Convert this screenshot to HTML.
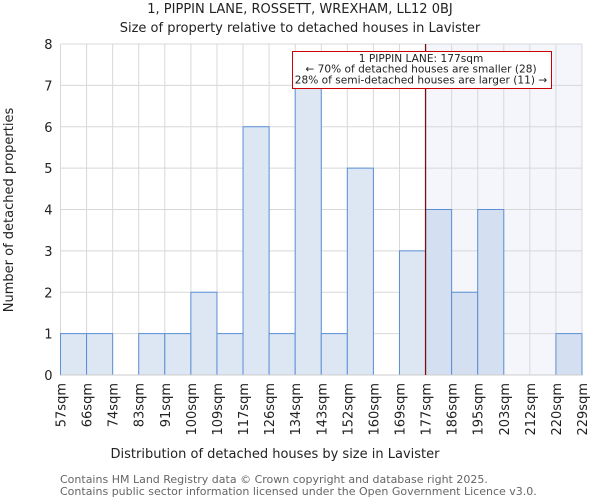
<!DOCTYPE html>
<html><head><meta charset="utf-8"><style>
body{margin:0;background:#fff;font-family:"DejaVu Sans","Liberation Sans",sans-serif;}
svg text{font-family:"DejaVu Sans","Liberation Sans",sans-serif;fill:#222;}
</style></head><body>
<svg id="chart" width="600" height="500">
<text x="300" y="13" text-anchor="middle" font-size="13">1, PIPPIN LANE, ROSSETT, WREXHAM, LL12 0BJ</text>
<text x="300" y="32" text-anchor="middle" font-size="13">Size of property relative to detached houses in Lavister</text>
<g id="plot"></g>
<text x="275" y="458" text-anchor="middle" font-size="13">Distribution of detached houses by size in Lavister</text>
<text transform="translate(13,210) rotate(-90)" text-anchor="middle" font-size="13">Number of detached properties</text>
<text x="60" y="483" font-size="11" style="fill:#666">Contains HM Land Registry data © Crown copyright and database right 2025.</text>
<text x="60" y="495" font-size="11" style="fill:#666">Contains public sector information licensed under the Open Government Licence v3.0.</text>
</svg>
<script>
const binLabels=["57sqm","66sqm","74sqm","83sqm","91sqm","100sqm","109sqm","117sqm","126sqm","134sqm","143sqm","152sqm","160sqm","169sqm","177sqm","186sqm","195sqm","203sqm","212sqm","220sqm","229sqm"];
const counts=[1,1,0,1,1,2,1,6,1,7,1,5,0,3,4,2,4,0,0,1];
const yTicks=[0,1,2,3,4,5,6,7,8];
const markerBin=14;
const NS="http://www.w3.org/2000/svg";
const L=60.5,R=582,T=44,B=375,yMax=8;
const bw=(R-L)/counts.length;
const xs=i=>L+i*bw;
const ys=v=>B-(v/yMax)*(B-T);
const g=document.getElementById('plot');
function mk(t,a){const e=document.createElementNS(NS,t);for(const k in a)e.setAttribute(k,a[k]);g.appendChild(e);return e;}
let e=mk('rect',{x:xs(markerBin),y:T,width:R-xs(markerBin),height:B-T,fill:'#f4f6fc'});


for(let i=0;i<=counts.length;i++){e=mk('line',{x1:xs(i),x2:xs(i),y1:T,y2:B,stroke:'#d8d8d8'});

}
yTicks.forEach(t=>{e=mk('line',{x1:L,x2:R,y1:ys(t),y2:ys(t),stroke:'#d8d8d8'});


e=mk('text',{x:L-8,y:ys(t)+5,'text-anchor':'end','font-size':13});e.textContent=t;

});
counts.forEach((c,i)=>{if(c<=0)return;e=mk('rect',{x:xs(i),y:ys(c),width:bw,height:B-ys(c),fill:i>=markerBin?'#d4e0f1':'#dde7f4',stroke:'#5b8fd6','stroke-width':1});

});
e=mk('line',{x1:L,x2:R,y1:B,y2:B,stroke:'#ccc'});


binLabels.forEach((l,i)=>{e=mk('text',{transform:`translate(${xs(i)+5},383) rotate(-90)`,'text-anchor':'end','font-size':13});e.textContent=l;

});
e=mk('line',{x1:xs(markerBin),x2:xs(markerBin),y1:T,y2:B,stroke:'#7a1010','stroke-width':1.3});


e=mk('rect',{x:292.5,y:51.5,width:259,height:37,fill:'#fff',stroke:'#cc0000','stroke-width':1});


["1 PIPPIN LANE: 177sqm","← 70% of detached houses are smaller (28)","28% of semi-detached houses are larger (11) →"].forEach((s,k)=>{e=mk('text',{x:421,y:62+k*10.7,'text-anchor':'middle','font-size':10.6});e.textContent=s;

});
</script>
</body></html>
